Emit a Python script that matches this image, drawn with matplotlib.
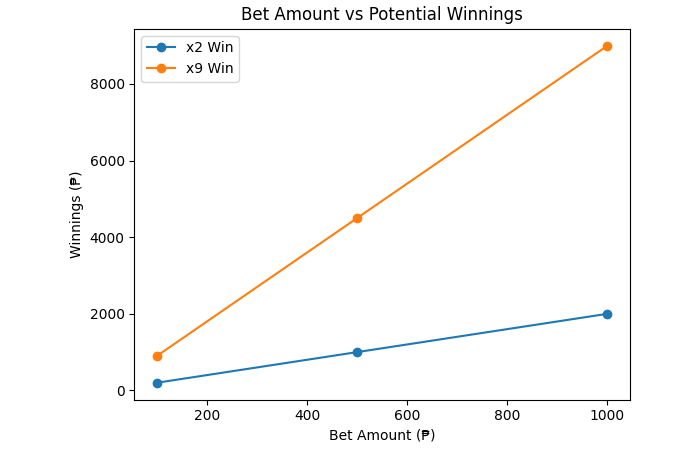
import matplotlib
matplotlib.use('Agg')
from matplotlib import pyplot as plt

bet_amounts = [100, 500, 1000]
win_x2 = [200, 1000, 2000]
win_x9 = [900, 4500, 9000]


def main():
  fig, ax = plt.subplots(figsize=(7, 4.5), dpi=100)
  fig.subplots_adjust(left=0.192, right=0.9, top=0.936, bottom=0.112)
  ax.plot(bet_amounts, win_x2, marker='o', label='x2 Win')
  ax.plot(bet_amounts, win_x9, marker='o', label='x9 Win')
  ax.set_title('Bet Amount vs Potential Winnings')
  ax.set_xlabel('Bet Amount (₱)')
  ax.set_ylabel('Winnings (₱)')
  ax.legend(loc='upper left')
  fig.savefig('out.png')


if __name__ == '__main__':
  main()
